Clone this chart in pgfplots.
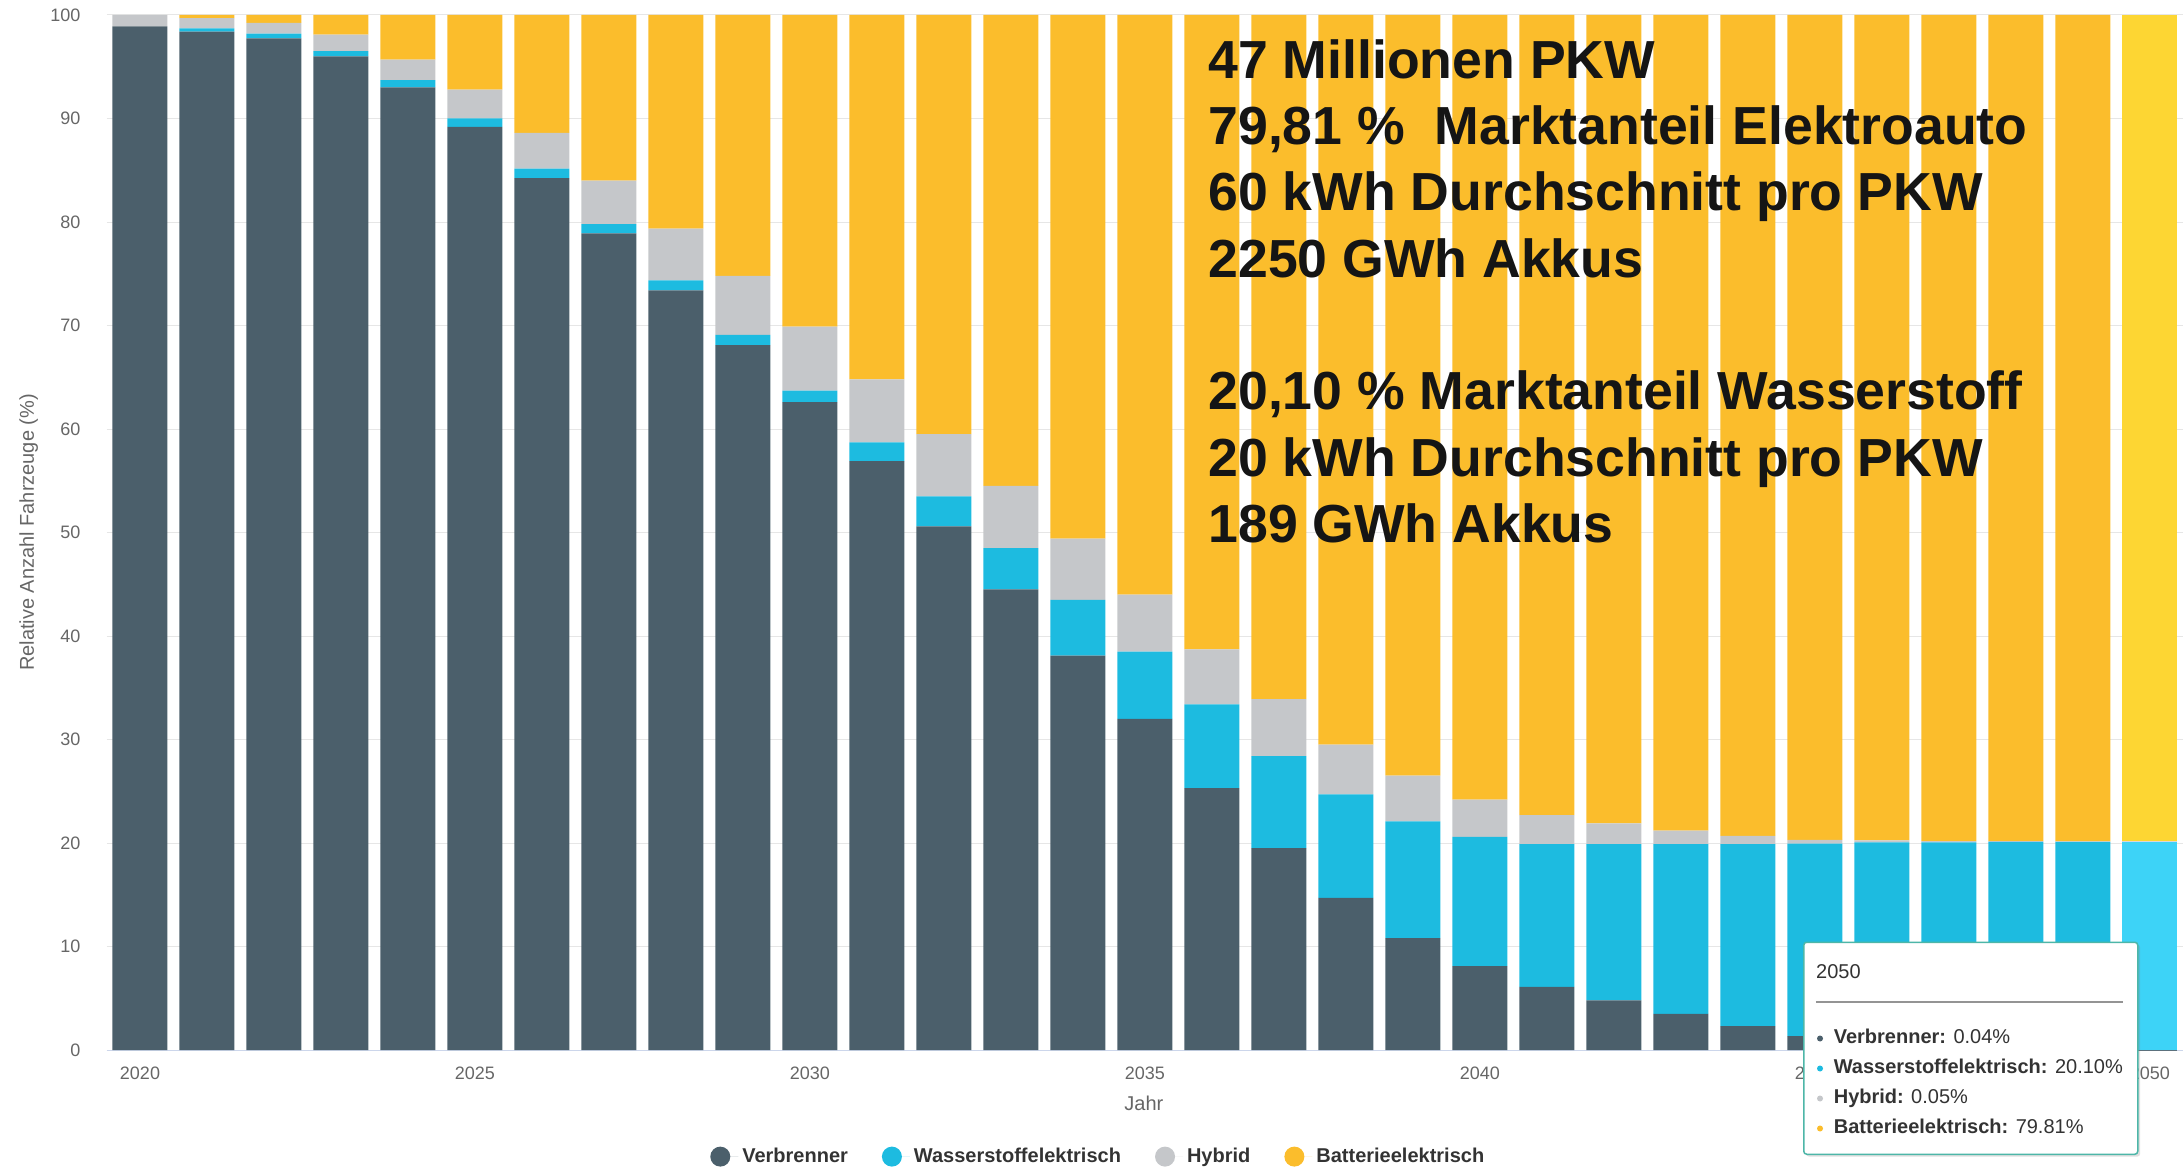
\documentclass[border=0pt]{standalone}
\usepackage{fontspec}
\setmainfont{Liberation Sans}
\usepackage{pgfplots}
\pgfplotsset{compat=1.18}
\usepackage{pgfplotstable}
\usetikzlibrary{shadows}

\definecolor{cV}{HTML}{4B5F6B}
\definecolor{cW}{HTML}{1DBBE0}
\definecolor{cH}{HTML}{C5C7CA}
\definecolor{cB}{HTML}{FBBD2C}
\definecolor{cVhi}{HTML}{5C717D}
\definecolor{cWhi}{HTML}{3DD3F7}
\definecolor{cHhi}{HTML}{D6D8DB}
\definecolor{cBhi}{HTML}{FDD633}
\definecolor{cGrid}{HTML}{E6E6E6}
\definecolor{cAxis}{HTML}{CCD6EB}
\definecolor{cTick}{HTML}{666666}
\definecolor{cText}{HTML}{333333}
\definecolor{cBig}{HTML}{151515}
\definecolor{cTipBorder}{HTML}{4DB6A8}

% share of vehicles in percent, read off the chart
\pgfplotstableread{
year  V      W      H     B
2020  98.9   0.0    1.1   0.0
2021  98.4   0.3    1.0   0.3
2022  97.75  0.45   1.05  0.75
2023  96.0   0.5    1.6   1.9
2024  93.0   0.7    2.0   4.3
2025  89.2   0.8    2.8   7.2
2026  84.25  0.9    3.45  11.4
2027  78.9   0.9    4.2   16.0
2028  73.4   0.95   5.0   20.65
2029  68.1   1.0    5.7   25.2
2030  62.6   1.1    6.2   30.1
2031  56.9   1.8    6.1   35.2
2032  50.6   2.9    6.0   40.5
2033  44.5   4.0    6.0   45.5
2034  38.1   5.4    5.9   50.6
2035  32.0   6.5    5.5   56.0
2036  25.3   8.1    5.3   61.3
2037  19.5   8.9    5.5   66.1
2038  14.7   10.0   4.8   70.5
2039  10.8   11.3   4.4   73.5
2040  8.1    12.5   3.6   75.8
2041  6.1    13.8   2.8   77.3
2042  4.8    15.1   2.0   78.1
2043  3.5    16.4   1.3   78.8
2044  2.3    17.6   0.8   79.3
2045  1.35   18.6   0.35  79.7
2046  0.75   19.3   0.2   79.75
2047  0.4    19.65  0.12  79.83
2048  0.2    19.9   0.08  79.82
2049  0.1    20.0   0.06  79.84
}\fleet

% hovered year, drawn lighter
\pgfplotstableread{
year  V      W      H     B
2050  0.04   20.10  0.05  79.81
}\hover

\begin{document}
\begin{tikzpicture}
\path[use as bounding box] (0,0) rectangle (1091.5pt,584.5pt);

\pgfplotsset{base/.style={
    at={(53.25pt,59.5pt)}, anchor=south west,
    scale only axis, width=1038.5pt, height=517.5pt,
    xmin=2019.5, xmax=2050.5, ymin=0, ymax=100,
    ybar stacked, bar width=27.5pt,
}}

\begin{axis}[
    base,
    legend image code/.code={\path (0pt,0pt) -- (14pt,0pt); \fill[#1] (5pt,0pt) circle (5pt);},
    axis x line*=bottom, axis y line*=left,
    axis line style={-},
    y axis line style={draw=none},
    x axis line style={draw=cAxis, line width=0.5pt},
    major tick length=0pt,
    tick style={draw=none},
    ymajorgrids=true,
    grid style={draw=cGrid, line width=0.5pt},
    ytick={0,10,...,100},
    xtick={2020,2025,...,2050},
    /pgf/number format/1000 sep={},
    /pgf/number format/assume math mode=true,
    ticklabel style={font=\fontsize{9pt}{11pt}\selectfont, text=cTick},
    yticklabel style={anchor=east, xshift=-9.5pt},
    xticklabel style={anchor=north, yshift=-4.9pt},
    ylabel={Relative Anzahl Fahrzeuge (\%)},
    xlabel={Jahr},
    every axis y label/.style={at={(axis description cs:-0.0375,0.5)}, rotate=90, anchor=center,
        font=\fontsize{10pt}{12pt}\selectfont, text=cTick},
    every axis x label/.style={at={(axis description cs:0.4995,-0.052)}, anchor=center,
        font=\fontsize{10pt}{12pt}\selectfont, text=cTick},
    legend columns=4,
    legend style={at={(axis description cs:0.478,-0.103)}, anchor=center,
        draw=none, fill=none, text=cText,
        font=\bfseries\fontsize{10pt}{12pt}\selectfont,
        /tikz/every even column/.append style={column sep=15pt}},
]
\addplot[fill=cV, draw=none] table[x=year, y=V] {\fleet};
\addlegendentry{Verbrenner}
\addplot[fill=cW, draw=none] table[x=year, y=W] {\fleet};
\addlegendentry{Wasserstoffelektrisch}
\addplot[fill=cH, draw=none] table[x=year, y=H] {\fleet};
\addlegendentry{Hybrid}
\addplot[fill=cB, draw=none] table[x=year, y=B] {\fleet};
\addlegendentry{Batterieelektrisch}
\end{axis}

\begin{axis}[base, hide axis]
\addplot[fill=cVhi, draw=none] table[x=year, y=V] {\hover};
\addplot[fill=cWhi, draw=none] table[x=year, y=W] {\hover};
\addplot[fill=cHhi, draw=none] table[x=year, y=H] {\hover};
\addplot[fill=cBhi, draw=none] table[x=year, y=B] {\hover};
\end{axis}

% overlaid annotation
\foreach \txt/\yy in {
    {47 Millionen PKW}/545,
    {79,81 \%\ \ Marktanteil Elektroauto}/512.3,
    {60 kWh Durchschnitt pro PKW}/479.1,
    {2250 GWh Akkus}/445.9,
    {20,10 \% Marktanteil Wasserstoff}/379.5,
    {20 kWh Durchschnitt pro PKW}/346.3,
    {189 GWh Akkus}/313.1}
  \node[anchor=base west, inner sep=0pt, text=cBig,
        font=\bfseries\fontsize{26.8pt}{33pt}\selectfont] at (604pt,\yy pt) {\txt};

% tooltip
\node[draw=cTipBorder, line width=0.75pt, fill=white, rounded corners=1.5pt,
      drop shadow={opacity=0.25, shadow xshift=1.2pt, shadow yshift=-1.2pt},
      minimum width=167pt, minimum height=106pt, inner sep=0pt, anchor=south west]
      at (901.5pt,7pt) {};
\node[anchor=base west, inner sep=0pt, text=cText, font=\fontsize{10pt}{12pt}\selectfont]
      at (907.9pt,95.5pt) {2050};
\draw[color=cTick!70, line width=0.6pt] (907.9pt,83.5pt) -- (1061.4pt,83.5pt);
\foreach \col/\name/\val/\yy in {
    cV/Verbrenner/0.04/62.65,
    cW/Wasserstoffelektrisch/20.10/47.65,
    cH/Hybrid/0.05/32.65,
    cB/Batterieelektrisch/79.81/17.65} {
  \fill[\col] (910pt,\yy pt+2.6pt) circle (1.5pt);
  \node[anchor=base west, inner sep=0pt, text=cText, font=\fontsize{10pt}{12pt}\selectfont]
      at (916.7pt,\yy pt) {\textbf{\name:} \val\%};
}
\end{tikzpicture}
\end{document}
